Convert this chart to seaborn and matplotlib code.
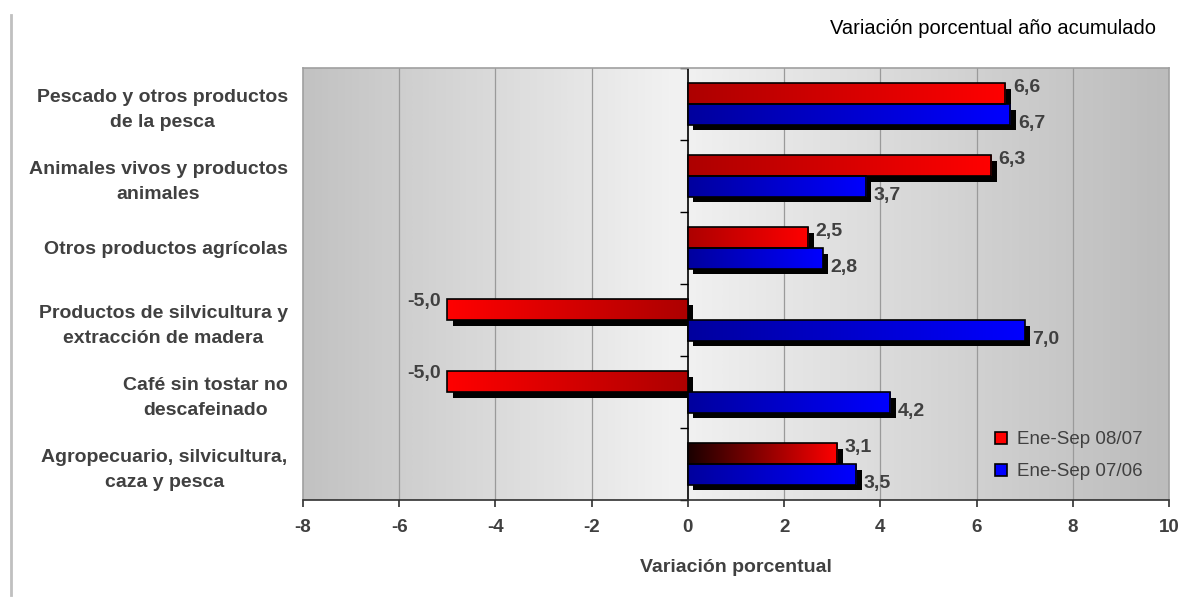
import numpy as np
import pandas as pd
import matplotlib
matplotlib.use('Agg')
import matplotlib.pyplot as plt
import matplotlib.patheffects as pe
from matplotlib.colors import LinearSegmentedColormap
from matplotlib.patches import Rectangle, Patch
from matplotlib.lines import Line2D
import seaborn as sns

# data
categories = ['Pescado y otros productos\nde la pesca',
              'Animales vivos y productos\nanimales',
              'Otros productos agrícolas',
              'Productos de silvicultura y\nextracción de madera',
              'Café sin tostar no\ndescafeinado',
              'Agropecuario, silvicultura,\ncaza y pesca']
series = ['Ene-Sep 08/07', 'Ene-Sep 07/06']
vals_0807 = [6.6, 6.3, 2.5, -5.0, -5.0, 3.1]
vals_0706 = [6.7, 3.7, 2.8, 7.0, 4.2, 3.5]
x_ticks = [-8, -6, -4, -2, 0, 2, 4, 6, 8, 10]

df = pd.DataFrame({
    'categoria': categories * 2,
    'serie': [series[0]] * len(categories) + [series[1]] * len(categories),
    'valor': vals_0807 + vals_0706,
})

# styles
bright = {series[0]: '#ff0000', series[1]: '#0000ff'}
dark = {series[0]: '#ad0000', series[1]: '#00009e'}
txt_grey = '#404040'

plt.rcParams['font.family'] = ['Liberation Sans', 'DejaVu Sans']

fig = plt.figure(figsize=(11.92, 5.98), dpi=100)
ax = fig.add_axes([303 / 1192, 1 - 500 / 598, 866 / 1192, 432 / 598])

sns.barplot(data=df, x='valor', y='categoria', hue='serie', order=categories,
            hue_order=series, palette=bright, orient='h', width=0.58,
            legend=False, ax=ax, zorder=2)

ax.set_xlim(x_ticks[0], x_ticks[-1])
ax.set_ylim(len(categories) - 0.5, -0.5)

# background gradient of the plot area
bg = LinearSegmentedColormap.from_list('bg', [(0, '#c2c2c2'), (0.43, '#f2f2f2'), (1, '#bcbcbc')])
ax.imshow(np.linspace(0, 1, 256)[None, :], extent=(0, 1, 0, 1), transform=ax.transAxes,
          cmap=bg, aspect='auto', zorder=0, interpolation='bicubic')

# gradient bars with shadow
bars = ax.patches[:]
for i, bar in enumerate(bars):
    s = series[i // len(categories)]
    ci = i % len(categories)
    x0, y0 = bar.get_x(), bar.get_y()
    w, h = bar.get_width(), bar.get_height()
    start = dark[s]
    if s == series[0] and ci == len(categories) - 1:
        start = '#1a0000'
    cmap = LinearSegmentedColormap.from_list('g%d' % i, [start, bright[s]])
    grad = np.linspace(0, 1, 256)[None, :]
    if w < 0:
        grad = grad[:, ::-1]
    left, right = min(x0, x0 + w), max(x0, x0 + w)
    bar.set_facecolor('none')
    bar.set_edgecolor('none')
    bar.set_path_effects([pe.SimplePatchShadow(offset=(4, -4), shadow_rgbFace='black', alpha=1.0)])
    im = ax.imshow(grad, extent=(left, right, y0 + h, y0), cmap=cmap, aspect='auto',
                   zorder=2.2, interpolation='bicubic')
    im.set_clip_path(bar)
    ax.add_patch(Rectangle((x0, y0), w, h, fill=False, ec='black', lw=1.2, zorder=2.4))

    v = bar.get_width()
    lab = f'{v:.1f}'.replace('.', ',')
    dy = 4.5 if s == series[0] else -6.5
    if v >= 0:
        ax.annotate(lab, (x0 + w, y0 + h / 2), xytext=(5.5, dy), textcoords='offset points',
                    ha='left', va='center', fontsize=14, fontweight='bold', color=txt_grey)
    else:
        ax.annotate(lab, (x0 + w, y0 + h / 2), xytext=(-5, 6), textcoords='offset points',
                    ha='right', va='center', fontsize=14, fontweight='bold', color=txt_grey)

ax.set_xlim(x_ticks[0], x_ticks[-1])
ax.set_ylim(len(categories) - 0.5, -0.5)

# grid, axis at zero
ax.set_xticks(x_ticks)
for t in x_ticks:
    if t not in (x_ticks[0], 0, x_ticks[-1]):
        ax.axvline(t, color='#9a9a9a', lw=0.9, zorder=1)
ax.axvline(0, color='black', lw=1.2, zorder=1.5)
seps = np.arange(len(categories) + 1) - 0.5
ax.plot(np.zeros(len(seps)), seps, ls='none', marker=0, markersize=6,
        color='black', mew=1, zorder=1.5, clip_on=False)

for side in ['top', 'right', 'left']:
    ax.spines[side].set_color('#a0a0a0')
    ax.spines[side].set_linewidth(1.2)
ax.spines['bottom'].set_color('#303030')
ax.spines['bottom'].set_linewidth(1.2)

ax.tick_params(axis='x', length=5, width=1.2, color='#303030', pad=9,
               labelsize=13.5, labelcolor=txt_grey)
ax.tick_params(axis='y', length=0, pad=11, labelsize=14, labelcolor=txt_grey)
ax.set_xticklabels([str(t) for t in x_ticks], fontweight='bold')
for lbl in ax.get_yticklabels():
    lbl.set_fontweight('bold')
    lbl.set_multialignment('center')
    lbl.set_linespacing(1.65)

ax.set_ylabel('')
ax.set_xlabel('Variación porcentual', fontsize=14, fontweight='bold', color=txt_grey, labelpad=16)

handles = [Patch(facecolor=bright[s], edgecolor='black', lw=1.2) for s in series]
ax.legend(handles, series, loc='center left', bbox_to_anchor=(0.799, 0.102), frameon=False,
          fontsize=13.5, labelcolor=txt_grey, handlelength=0.65, handleheight=0.65,
          handletextpad=0.55, labelspacing=0.8, borderpad=0, borderaxespad=0)

fig.text(1156 / 1192, 1 - 29 / 598, 'Variación porcentual año acumulado', ha='right',
         va='center', fontsize=14.5, color='black')
fig.add_artist(Line2D([11 / 1192, 11 / 1192], [3 / 598, 583 / 598], color='#c0c0c0', lw=2))

fig.savefig('out.png', dpi=100)
